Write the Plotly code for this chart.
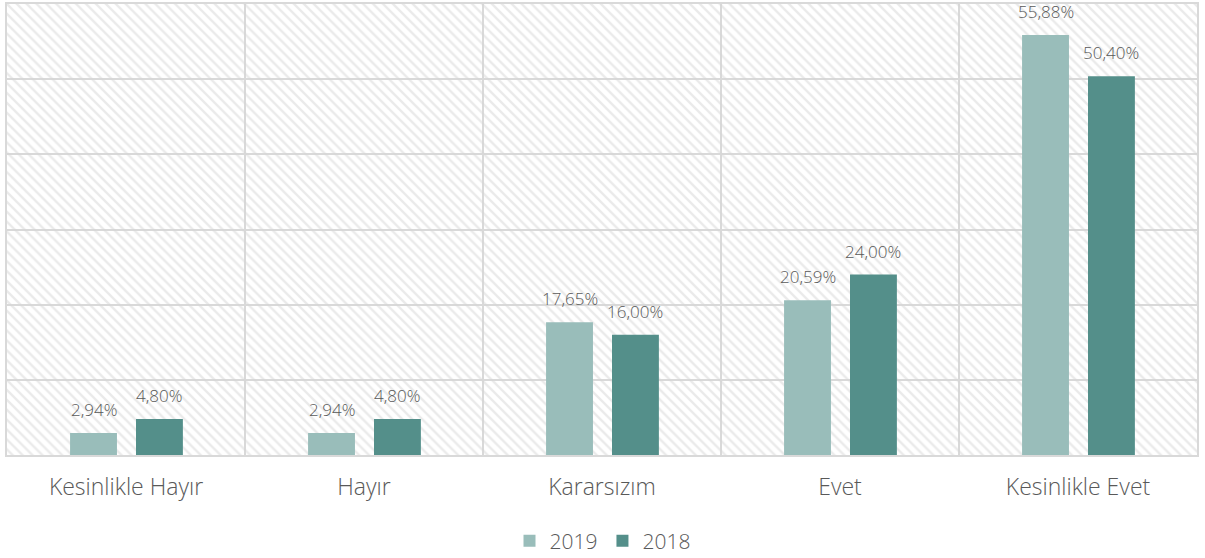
import plotly.graph_objects as go

categories = ["Kesinlikle Hayır", "Hayır", "Kararsızım", "Evet", "Kesinlikle Evet"]
values_2019 = [2.94, 2.94, 17.65, 20.59, 55.88]
values_2018 = [4.80, 4.80, 16.00, 24.00, 50.40]
y_max = 60

grid = "#d9d9d9"
text_col = "#595959"
font_family = "'Open Sans', Lato, sans-serif"
cat_px = 238  # pixel width of one category slot

series = [
    ("2019", values_2019, "#99bdba", -0.235),
    ("2018", values_2018, "#548f8a", 0.042),
]
bar_w = 0.197

fig = go.Figure()

# hatched background per category
fig.add_trace(go.Bar(
    x=categories, y=[y_max] * len(categories), width=1, offset=-0.5,
    marker=dict(color="rgba(0,0,0,0)", line=dict(width=0),
                pattern=dict(shape="\\", fgcolor="#d6d6d6", bgcolor="rgba(0,0,0,0)",
                             size=7, solidity=0.35)),
    showlegend=False, hoverinfo="skip",
))

for name, vals, color, off in series:
    fig.add_trace(go.Bar(
        name=name, x=categories, y=vals, width=bar_w, offset=off,
        marker=dict(color=color, line=dict(width=0)),
    ))
    for c, v in zip(categories, vals):
        fig.add_annotation(
            x=c, y=v, xref="x", yref="y", yanchor="bottom", yshift=10,
            xshift=(off + bar_w / 2) * cat_px, showarrow=False,
            text=f"{v:.2f}".replace(".", ",") + "%",
            font=dict(size=17, color=text_col, family=font_family, weight=300),
        )

fig.update_layout(
    width=1205, height=558,
    barmode="overlay",
    paper_bgcolor="white", plot_bgcolor="white",
    margin=dict(l=7, r=8, t=4, b=103, autoexpand=False),
    font=dict(family=font_family, color=text_col, weight=300),
    legend=dict(orientation="h", x=0.5, xanchor="center", xref="container",
                y=(558 - 541) / 558, yanchor="middle", yref="container",
                font=dict(size=21, color=text_col, weight=300), itemwidth=30,
                traceorder="normal"),
    xaxis=dict(tickson="boundaries", showgrid=True, gridcolor=grid, gridwidth=2,
               showline=True, linecolor=grid, linewidth=2, mirror=True,
               ticks="", ticklabelstandoff=10, automargin=False,
               tickfont=dict(size=23, color=text_col, weight=300), range=[-0.5, 4.5]),
    yaxis=dict(range=[0, y_max], dtick=10, showticklabels=False, showgrid=True,
               gridcolor=grid, gridwidth=2, zeroline=False, automargin=False,
               showline=True, linecolor=grid, linewidth=2, mirror=True),
)

fig.write_html("out.html", config={"displayModeBar": False},
               post_script="document.body.style.margin='0';")
